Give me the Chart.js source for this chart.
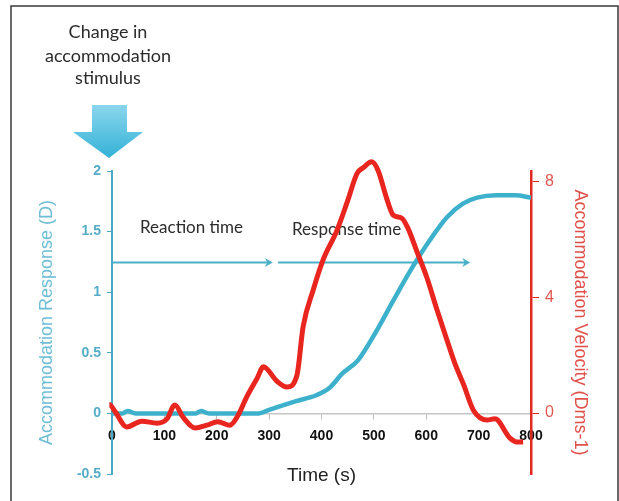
<!DOCTYPE html>
<html>
<head>
<meta charset="utf-8">
<title>Accommodation response</title>
<script src="https://cdn.jsdelivr.net/npm/chart.js@4.4.1/dist/chart.umd.min.js"></script>
<style>
  html, body { margin: 0; padding: 0; background: #fff; }
  #wrap { width: 619px; height: 501px; position: relative; }
</style>
</head>
<body>
<div id="wrap"><canvas id="accomChart" width="619" height="501"></canvas></div>
<script>
// accommodation response (D), left axis
const respTime = [0, 20, 30, 45, 100, 160, 170, 185, 280, 300, 350, 390, 415, 440, 470, 505, 537, 570, 607, 640, 670, 697, 735, 770, 800];
const respValues = [0, 0, 0.02, 0, 0, 0, 0.02, 0, 0, 0.03, 0.1, 0.15, 0.21, 0.33, 0.44, 0.68, 0.93, 1.18, 1.43, 1.62, 1.73, 1.78, 1.8, 1.8, 1.78];

// accommodation velocity (Dms-1), right axis
const velTime = [-23, -5, 6, 28, 57, 86, 105, 120, 136, 159, 181, 202, 225, 240, 257, 277, 289, 315, 334, 353, 365, 384, 403, 429, 449, 468, 480, 496, 508, 525, 537, 553, 565, 582, 601, 620, 640, 655, 671, 690, 716, 731, 760, 773, 785];
const velValues = [-0.25, 0.3, 0.05, -0.48, -0.28, -0.35, -0.2, 0.28, -0.15, -0.52, -0.42, -0.3, -0.42, -0.1, 0.55, 1.2, 1.6, 1.1, 0.9, 1.3, 3.0, 4.25, 5.3, 6.3, 7.3, 8.3, 8.5, 8.7, 8.4, 7.4, 6.85, 6.75, 6.4, 5.6, 4.7, 3.6, 2.5, 1.7, 1.0, 0.1, -0.24, -0.2, -0.87, -1.0, -1.0];

const xTicks = [0, 100, 200, 300, 400, 500, 600, 700, 800];
const rightTicks = [0, 4, 8];

// annotation arrows (time range, drawn at D = 1.25)
const reactionSpan = [0, 307];
const responseSpan = [317, 684];
const arrowLevel = 1.25;

const BLUE = "#3db1cc";
const RED = "#e8261f";

const toPoints = (xs, ys) => xs.map((x, i) => ({ x: x, y: ys[i] }));

function arrowHead(c, x, y, dir) {
  c.beginPath();
  c.moveTo(x, y);
  c.lineTo(x - dir * 8, y - 4.5);
  c.lineTo(x - dir * 5.5, y);
  c.lineTo(x - dir * 8, y + 4.5);
  c.closePath();
  c.fill();
}

const annotations = {
  id: "annotations",
  beforeDatasetsDraw(chart) {
    const c = chart.ctx;
    const xs = chart.scales.x;
    const ys = chart.scales.y;
    c.save();
    c.fillStyle = "#2b2b2b";
    c.font = "17px Lato";
    c.textAlign = "left";
    c.textBaseline = "middle";
    c.fillText("Reaction time", 140, 228);
    c.fillText("Response time", 292, 230);

    const ay = Math.round(ys.getPixelForValue(arrowLevel)) + 0.5;
    c.strokeStyle = "#4ab0c8";
    c.fillStyle = "#4ab0c8";
    c.lineWidth = 2;
    [reactionSpan, responseSpan].forEach((s) => {
      const x0 = xs.getPixelForValue(s[0]);
      const x1 = xs.getPixelForValue(s[1]);
      c.beginPath();
      c.moveTo(x0, ay);
      c.lineTo(x1 - 5, ay);
      c.stroke();
      arrowHead(c, x1, ay, 1);
    });
    c.restore();
  },
  afterDraw(chart) {
    const c = chart.ctx;
    c.save();
    // outer frame
    c.strokeStyle = "#3a3a3a";
    c.lineWidth = 1.5;
    c.strokeRect(11, 6, 607, 520);

    // stimulus caption
    c.fillStyle = "#2b2b2b";
    c.font = "18px Lato";
    c.textAlign = "center";
    c.textBaseline = "middle";
    c.fillText("Change in", 108, 32);
    c.fillText("accommodation", 108, 56);
    c.fillText("stimulus", 108, 78);

    // big stimulus arrow pointing at t = 0
    const tipX = chart.scales.x.getPixelForValue(0) - 3;
    const g = c.createLinearGradient(0, 105, 0, 158);
    g.addColorStop(0, "#8ad6ec");
    g.addColorStop(1, "#34b2d8");
    c.fillStyle = g;
    c.beginPath();
    c.moveTo(tipX - 17, 105);
    c.lineTo(tipX + 18, 105);
    c.lineTo(tipX + 18, 132);
    c.lineTo(tipX + 34, 132);
    c.lineTo(tipX, 158);
    c.lineTo(tipX - 36, 132);
    c.lineTo(tipX - 17, 132);
    c.closePath();
    c.fill();
    c.restore();
  },
};

const ctx = document.getElementById("accomChart");

new Chart(ctx, {
  type: "line",
  data: {
    datasets: [
      {
        label: "Accommodation Velocity",
        data: toPoints(velTime, velValues),
        yAxisID: "y1",
        borderColor: RED,
        borderWidth: 5,
        pointRadius: 0,
        cubicInterpolationMode: "monotone",
        clip: false,
      },
      {
        label: "Accommodation Response",
        data: toPoints(respTime, respValues),
        yAxisID: "y",
        borderColor: BLUE,
        borderWidth: 4.5,
        pointRadius: 0,
        cubicInterpolationMode: "monotone",
        clip: false,
      },
    ],
  },
  options: {
    responsive: false,
    animation: false,
    devicePixelRatio: 1,
    layout: { padding: { top: 171, bottom: 27, left: 0, right: 0 } },
    plugins: {
      legend: { display: false },
      tooltip: { enabled: false },
    },
    scales: {
      x: {
        type: "linear",
        position: { y: 0 },
        min: 0,
        max: 800,
        afterBuildTicks: (s) => { s.ticks = xTicks.map((v) => ({ value: v })); },
        grid: { drawOnChartArea: false, tickLength: 5, tickColor: "#bdbdbd" },
        border: { color: "#c6c6c6", width: 1.5 },
        ticks: {
          padding: 9,
          color: "#111",
          font: { family: "Liberation Sans", size: 14, weight: "bold" },
          maxRotation: 0,
        },
        title: {
          display: true,
          text: "Time (s)",
          color: "#222",
          font: { family: "Liberation Sans", size: 19 },
          padding: { top: 11, bottom: 0 },
        },
      },
      y: {
        position: "left",
        min: -0.5,
        max: 2,
        afterFit: (s) => { s.width = 112; },
        grid: { drawOnChartArea: false, tickLength: 5, tickColor: "#4aaac4" },
        border: { color: "#4aaac4", width: 2 },
        ticks: {
          stepSize: 0.5,
          padding: 6,
          color: "#55adc7",
          font: { family: "Liberation Sans", size: 14, weight: "bold" },
          callback: (v) => String(v),
        },
        title: {
          display: true,
          text: "Accommodation Response (D)",
          color: "#6dbdd5",
          font: { family: "Liberation Sans", size: 18 },
          padding: { top: 36, bottom: 0 },
        },
      },
      y1: {
        position: "right",
        min: -2.11,
        max: 8.38,
        afterBuildTicks: (s) => { s.ticks = rightTicks.map((v) => ({ value: v })); },
        afterFit: (s) => { s.width = 88; },
        grid: { drawOnChartArea: false, tickLength: 8, tickColor: "#e02a22" },
        border: { color: "#e02a22", width: 2.5 },
        ticks: {
          padding: 6,
          color: "#e0574f",
          font: { family: "Liberation Sans", size: 16 },
        },
        title: {
          display: true,
          text: "Accommodation Velocity (Dms-1)",
          color: "#e0514a",
          font: { family: "Liberation Sans", size: 18 },
          padding: { top: 28, bottom: 0 },
        },
      },
    },
  },
  plugins: [annotations],
});
</script>
</body>
</html>
